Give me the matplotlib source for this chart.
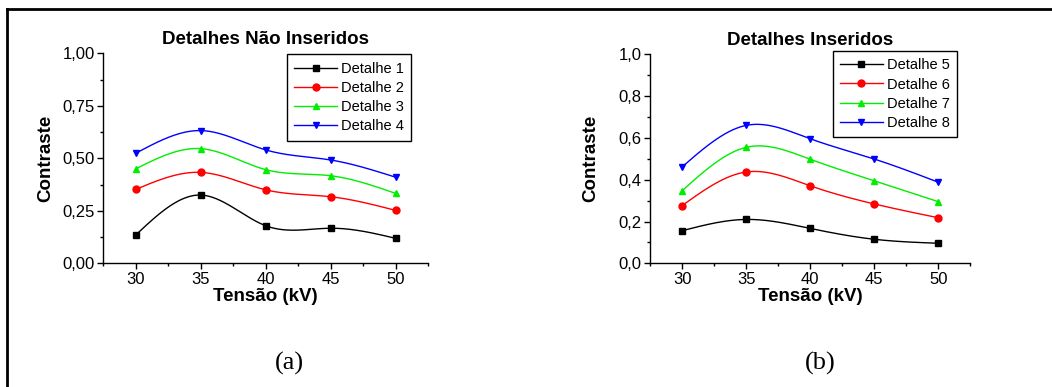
import numpy as np
import matplotlib
matplotlib.use("Agg")
import matplotlib.pyplot as plt
from matplotlib.lines import Line2D
from matplotlib.ticker import MultipleLocator, FuncFormatter

plt.rcParams["font.family"] = ["Liberation Sans", "DejaVu Sans"]

tensao = [30, 35, 40, 45, 50]

# (a) Detalhes Nao Inseridos
det1 = [0.135, 0.325, 0.179, 0.167, 0.119]
det2 = [0.352, 0.433, 0.350, 0.317, 0.252]
det3 = [0.450, 0.546, 0.446, 0.417, 0.333]
det4 = [0.524, 0.632, 0.540, 0.492, 0.410]

# (b) Detalhes Inseridos
det5 = [0.156, 0.210, 0.167, 0.115, 0.096]
det6 = [0.276, 0.437, 0.371, 0.284, 0.218]
det7 = [0.347, 0.555, 0.498, 0.395, 0.295]
det8 = [0.461, 0.660, 0.596, 0.499, 0.388]

colors = ["black", "#ff0000", "#00ee00", "#0000ff"]
markers = ["s", "o", "^", "v"]


def spline(x, y, n=200):
    # natural cubic spline through the points (smooth connector)
    x = np.asarray(x, float)
    y = np.asarray(y, float)
    k = len(x)
    h = np.diff(x)
    A = np.zeros((k, k))
    b = np.zeros(k)
    A[0, 0] = A[-1, -1] = 1
    for i in range(1, k - 1):
        A[i, i - 1] = h[i - 1]
        A[i, i] = 2 * (h[i - 1] + h[i])
        A[i, i + 1] = h[i]
        b[i] = 6 * ((y[i + 1] - y[i]) / h[i] - (y[i] - y[i - 1]) / h[i - 1])
    m = np.linalg.solve(A, b)
    xs = np.linspace(x[0], x[-1], n)
    idx = np.clip(np.searchsorted(x, xs) - 1, 0, k - 2)
    x0, x1 = x[idx], x[idx + 1]
    hh = x1 - x0
    t0 = x1 - xs
    t1 = xs - x0
    ys = (m[idx] * t0**3 / (6 * hh) + m[idx + 1] * t1**3 / (6 * hh)
          + (y[idx] / hh - m[idx] * hh / 6) * t0
          + (y[idx + 1] / hh - m[idx + 1] * hh / 6) * t1)
    return xs, ys


def panel(ax, series, labels, title, ystep, ydec, legend_bbox, ylabelpad):
    handles = []
    for vals, c, mk, lab in zip(series, colors, markers, labels):
        xs, ys = spline(tensao, vals)
        ax.plot(xs, ys, color=c, lw=1)
        ax.plot(tensao, vals, ls="none", marker=mk, color=c, ms=5)
        handles.append(Line2D([], [], color=c, lw=1, marker=mk, ms=5, label=lab))
    ax.set_xlim(27.5, 52.5)
    ax.set_ylim(0, 1.0)
    ax.xaxis.set_major_locator(MultipleLocator(5))
    ax.xaxis.set_minor_locator(MultipleLocator(2.5))
    ax.yaxis.set_major_locator(MultipleLocator(ystep))
    ax.yaxis.set_minor_locator(MultipleLocator(ystep / 2))
    ax.yaxis.set_major_formatter(
        FuncFormatter(lambda v, p: f"{v:.{ydec}f}".replace(".", ",")))
    ax.tick_params(which="major", direction="out", length=4, width=1,
                   labelsize=12, pad=2)
    ax.tick_params(which="minor", direction="out", length=2.5, width=1)
    for s in ("top", "right"):
        ax.spines[s].set_visible(False)
    for s in ("left", "bottom"):
        ax.spines[s].set_linewidth(1)
    ax.set_title(title, fontsize=13.5, fontweight="bold", pad=7)
    ax.set_xlabel("Tensão (kV)", fontsize=13.5, fontweight="bold", labelpad=1)
    ax.set_ylabel("Contraste", fontsize=13.5, fontweight="bold",
                  labelpad=ylabelpad)
    ax.legend(handles=handles, loc="upper left", bbox_to_anchor=legend_bbox,
              fontsize=10.5, frameon=True, fancybox=False, edgecolor="black",
              framealpha=1, handlelength=2.9, handletextpad=0.3,
              labelspacing=0.36, borderpad=0.5, borderaxespad=0)


fig = plt.figure(figsize=(10.52, 3.87), dpi=100)
ax1 = fig.add_axes([0.0982, 0.3196, 0.3087, 0.5427])
ax2 = fig.add_axes([0.6179, 0.3196, 0.3045, 0.5400])

panel(ax1, [det1, det2, det3, det4],
      ["Detalhe 1", "Detalhe 2", "Detalhe 3", "Detalhe 4"],
      "Detalhes Não Inseridos", 0.25, 2, (0.566, 0.995), 6)
panel(ax2, [det5, det6, det7, det8],
      ["Detalhe 5", "Detalhe 6", "Detalhe 7", "Detalhe 8"],
      "Detalhes Inseridos", 0.2, 1, (0.571, 1.016), 14)

fig.text(289 / 1052, 1 - 363 / 387, "(a)", family=["Liberation Serif"],
         fontsize=19, ha="center", va="center")
fig.text(820 / 1052, 1 - 363 / 387, "(b)", family=["Liberation Serif"],
         fontsize=19, ha="center", va="center")

# outer frame (top and left edges)
fig.add_artist(Line2D([7 / 1052, 1.0], [1 - 9 / 387, 1 - 9 / 387],
                      color="black", lw=2))
fig.add_artist(Line2D([7 / 1052, 7 / 1052], [0.0, 1 - 9 / 387],
                      color="black", lw=2))

fig.savefig("out.png", dpi=100)
